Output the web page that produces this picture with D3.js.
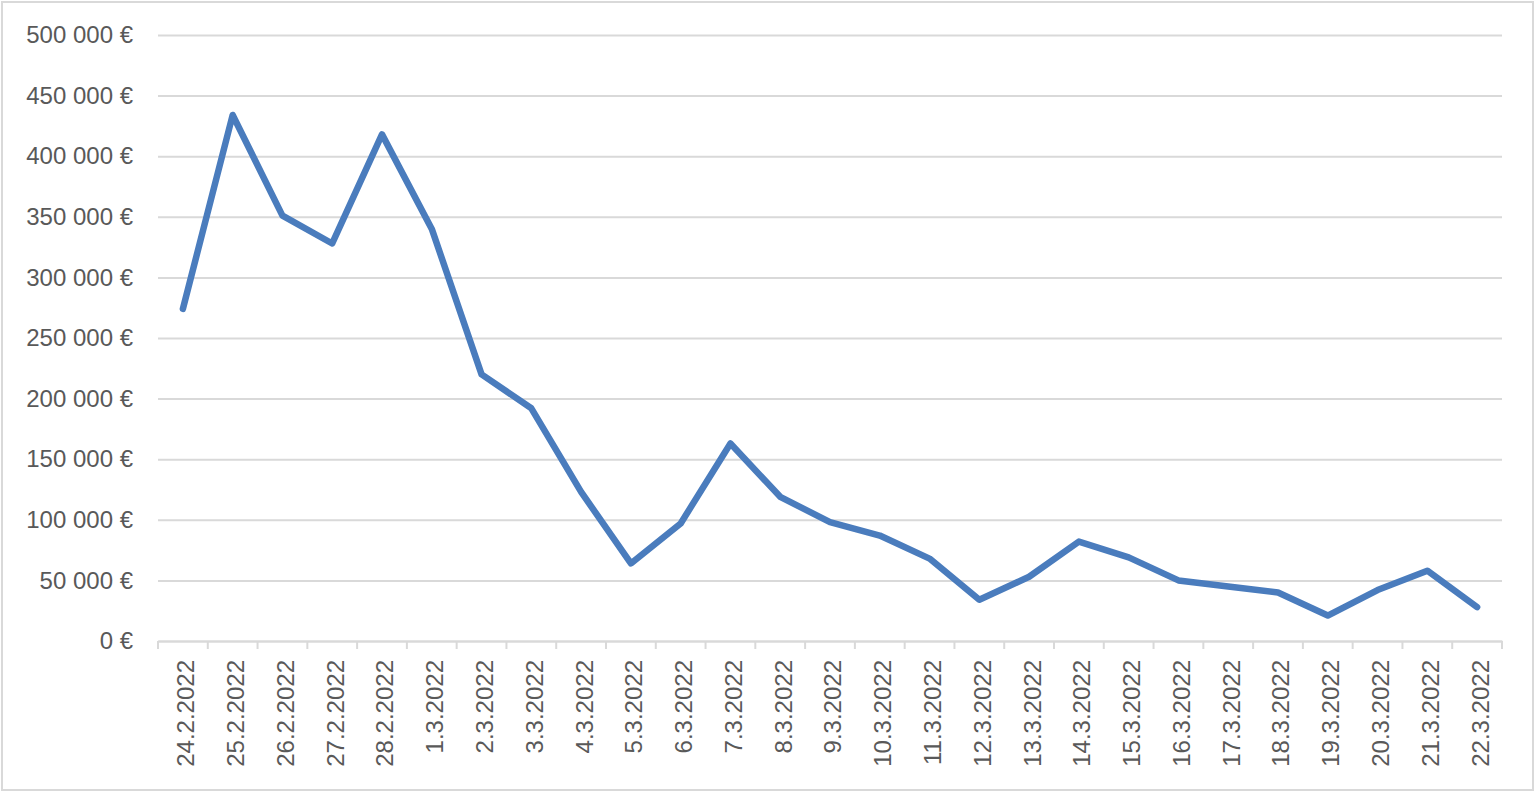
<!DOCTYPE html>
<html>
<head>
<meta charset="utf-8">
<script src="https://cdn.jsdelivr.net/npm/d3@7"></script>
<style>
  body { margin: 0; background: #fff; }
  svg text { font-family: "Liberation Sans", Arial, sans-serif; fill: #595959; }
</style>
</head>
<body>
<div id="chart"></div>
<script>
// days from 24.2.2022 to 22.3.2022
var dates = ["24.2.2022", "25.2.2022", "26.2.2022", "27.2.2022", "28.2.2022",
  "1.3.2022", "2.3.2022", "3.3.2022", "4.3.2022", "5.3.2022", "6.3.2022",
  "7.3.2022", "8.3.2022", "9.3.2022", "10.3.2022", "11.3.2022", "12.3.2022",
  "13.3.2022", "14.3.2022", "15.3.2022", "16.3.2022", "17.3.2022", "18.3.2022",
  "19.3.2022", "20.3.2022", "21.3.2022", "22.3.2022"]

// amounts in euro
var amounts = [274000, 434000, 351000, 328000, 418000,
  340000, 220000, 192000, 123000, 64000, 97000,
  163000, 119000, 98000, 87000, 68000, 34000,
  53000, 82000, 69000, 50000, 45000, 40000,
  21000, 42000, 58000, 28000]

var yTicks = [0, 50000, 100000, 150000, 200000, 250000, 300000, 350000, 400000, 450000, 500000]

var width = 1536, height = 792
// plot area edges (don't call these top/left, window.top is read-only)
var plotLeft = 158, plotRight = 1502, plotTop = 35, plotBottom = 641

var svg = d3.select("#chart").append("svg")
  .attr("width", width)
  .attr("height", height)

// outer frame
svg.append("rect")
  .attr("x", 2).attr("y", 2)
  .attr("width", width - 5).attr("height", height - 4)
  .attr("fill", "none")
  .attr("stroke", "#d9d9d9")
  .attr("stroke-width", 2)

var x = d3.scaleBand().domain(dates).range([plotLeft, plotRight]).padding(0)
var y = d3.scaleLinear().domain([0, 500000]).range([plotBottom, plotTop])

var loc = d3.formatLocale({ decimal: ",", thousands: "\u00a0", grouping: [3], currency: ["", "\u00a0€"] })
var fmt = loc.format("$,")

// gridlines + y labels
var yAxis = svg.append("g")
  .attr("transform", "translate(" + plotLeft + ",0)")
  .call(d3.axisLeft(y).tickValues(yTicks).tickFormat(fmt)
    .tickSize(-(plotRight - plotLeft)).tickPadding(25))
yAxis.select(".domain").remove()
yAxis.selectAll(".tick line").attr("stroke", "#d9d9d9").attr("stroke-width", 2)
yAxis.selectAll(".tick text").style("font-size", "24px")

// category axis
var xAxis = svg.append("g")
  .attr("transform", "translate(0," + plotBottom + ")")
  .call(d3.axisBottom(x).tickSize(0).tickPadding(0))
xAxis.select(".domain").attr("stroke", "#d9d9d9").attr("stroke-width", 2)
xAxis.selectAll(".tick text")
  .style("font-size", "24px")
  .attr("text-anchor", "end")
  .attr("transform", "rotate(-90)")
  .attr("x", -19)
  .attr("y", 3)
  .attr("dy", "0.35em")

// tick marks between categories
svg.selectAll(".sep")
  .data(dates.concat(["end"]))
  .enter()
  .append("line")
  .attr("class", "sep")
  .attr("x1", function(d, i) { return plotLeft + i * x.bandwidth() })
  .attr("x2", function(d, i) { return plotLeft + i * x.bandwidth() })
  .attr("y1", plotBottom)
  .attr("y2", plotBottom + 8)
  .attr("stroke", "#d9d9d9")
  .attr("stroke-width", 2)

// the line
var line = d3.line()
  .x(function(d, i) { return x(dates[i]) + x.bandwidth() / 2 })
  .y(function(d) { return y(d) })

svg.append("path")
  .datum(amounts)
  .attr("d", line)
  .attr("fill", "none")
  .attr("stroke", "#4a7cbd")
  .attr("stroke-width", 6.5)
  .attr("stroke-linejoin", "round")
  .attr("stroke-linecap", "round")
</script>
</body>
</html>
